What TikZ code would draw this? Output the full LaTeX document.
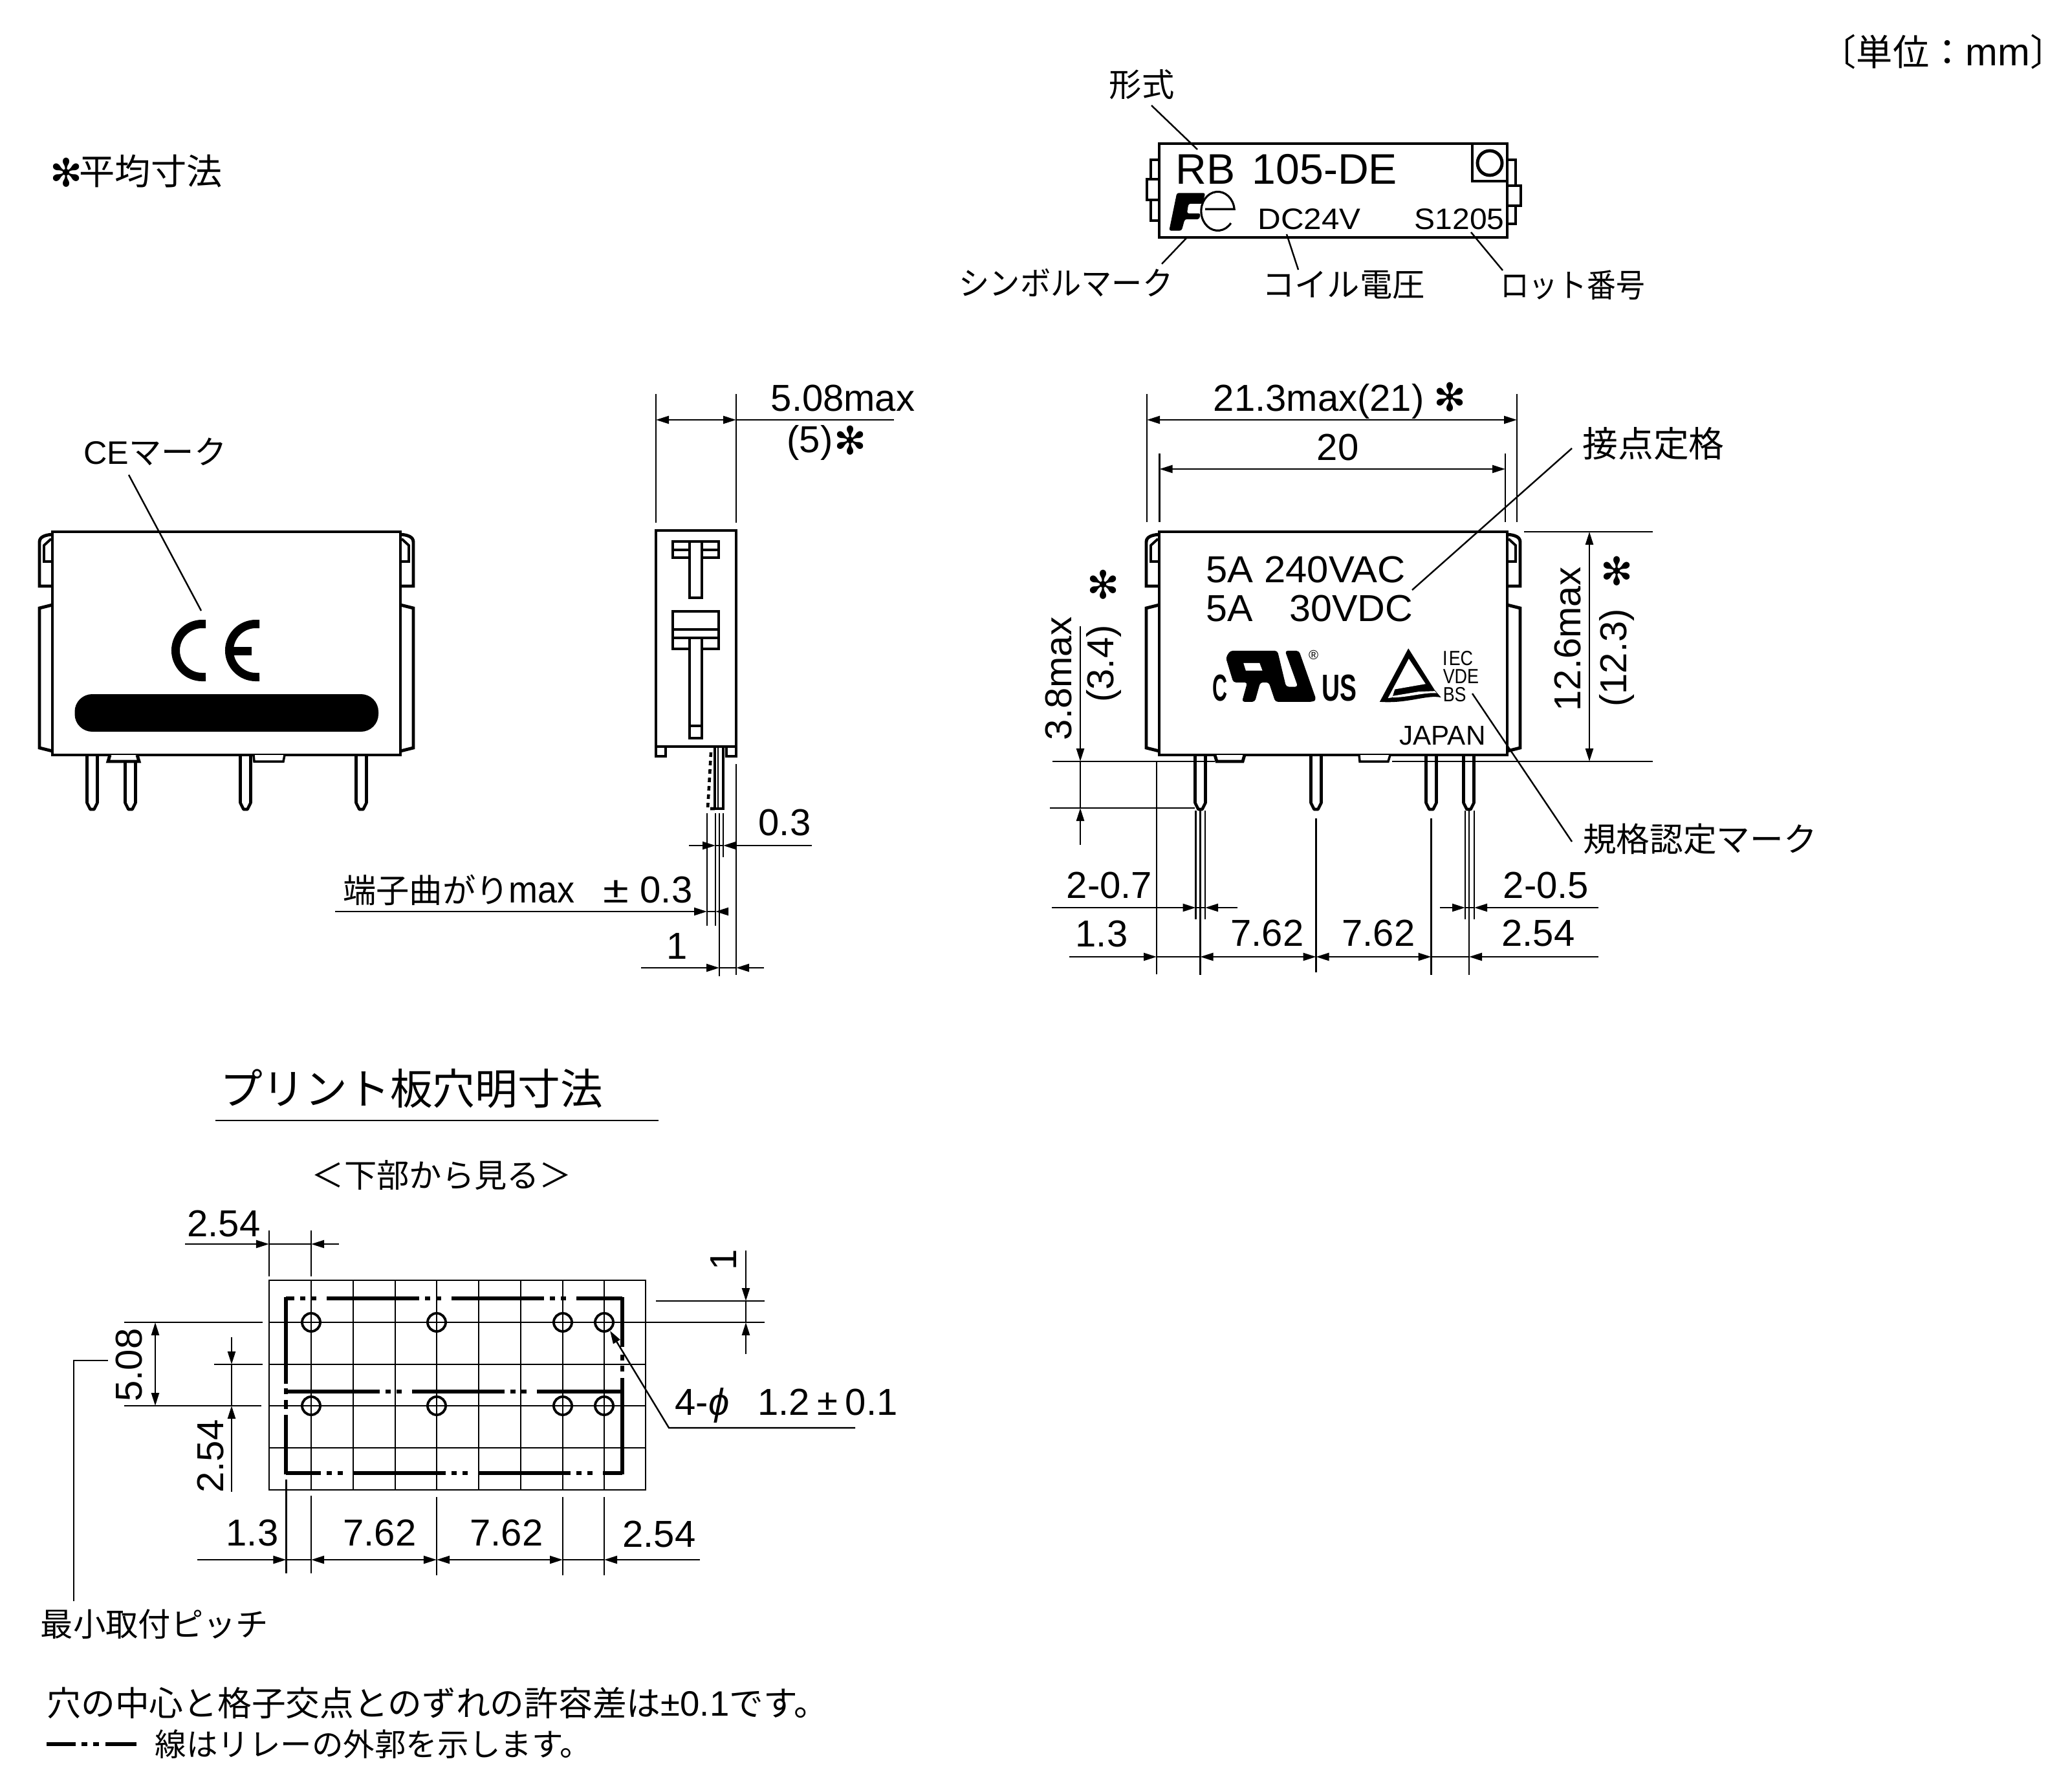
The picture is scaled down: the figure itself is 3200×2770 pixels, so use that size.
\documentclass[tikz,border=0pt]{standalone}
\usepackage{graphicx}
\usepackage{fontspec}
\setmainfont{Liberation Sans}
\newfontfamily\cjk{Noto Sans CJK JP}
\newfontfamily\symfont{DejaVu Sans}
\usetikzlibrary{arrows.meta}
\tikzset{
  every node/.style={inner sep=0pt},
  >={Triangle[length=.2cm,width=.12cm]},
  dim/.style={line width=.7pt},
  body/.style={line width=1.4pt,line join=miter},
  pin/.style={line width=1.3pt,line join=round,fill=white},
  outl/.style={line width=1.5pt},
  dimtext/.style={font=\fontsize{16.5}{18}\selectfont},
  jptext/.style={font=\cjk\fontsize{14.3}{16}\selectfont},
  starmark/.style={font=\symfont\fontsize{17}{18}\selectfont},
}
\begin{document}
\begin{tikzpicture}[x=.01cm,y=-.01cm]
\useasboundingbox (0,0) rectangle (3200,2770);

% top labels
\node[font=\cjk\fontsize{16}{18}\selectfont] (unit) at (3004,80) {〔単位：{\rmfamily\fontsize{17}{18}\selectfont mm}〕};
\node[starmark] (avgstar) at (103,267) {✻};
\node[font=\cjk\fontsize{15.7}{18}\selectfont,anchor=west] (avg) at (122,265) {平均寸法};

% marking view
\draw[body] (1792,222) rectangle (2330,367);
\draw[body] (2276,222) -- (2276,280) -- (2330,280);
\draw[body] (2303,252) circle (19);
\draw[line width=1.1pt] (2330,247) -- (2343,247) -- (2343,287);
\draw[line width=1.1pt] (2330,287) -- (2351,287) -- (2351,318) -- (2330,318);
\draw[line width=1.1pt] (2343,318) -- (2343,346) -- (2330,346);
\draw[line width=1.1pt] (1792,247) -- (1779,247) -- (1779,277);
\draw[line width=1.1pt] (1792,277) -- (1773,277) -- (1773,309) -- (1792,309);
\draw[line width=1.1pt] (1779,309) -- (1779,341) -- (1792,341);
\node[anchor=west,font=\fontsize{18.8}{20}\selectfont] (model) at (1817,262) {\scalebox{1}[1]{RB\hspace{.12em} 105-DE}};
\node[font=\fontsize{13}{14}\selectfont] (coil) at (2024,339) {\scalebox{1.08}[1]{DC24V}};
\node[font=\fontsize{13}{14}\selectfont] (lot) at (2256,339) {\scalebox{1.05}[1]{S1205}};
\begin{scope}[shift={(1780,280)},x=.00333cm,y=-.00333cm]
\fill[rounded corners=.03cm] (82,230) -- (118,55) -- (250,55) -- (238,105) -- (172,105) -- (165,150) -- (228,150) -- (222,177) -- (155,177) -- (140,230) -- cycle;
\draw[line width=.9pt] (250,130) -- (385,130) arc[start angle=6,end angle=322,x radius=.257cm,y radius=.30cm];
\end{scope}
\node[jptext] (typelab) at (1765,131) {形式};
\node[jptext] (symlab) at (1648,437) {\scalebox{.94}[1]{シンボルマーク}};
\node[jptext] (coillab) at (2077,440) {コイル電圧};
\node[jptext] (lotlab) at (2431,441) {\scalebox{.89}[1]{ロット番号}};
\draw[dim] (1780,163) -- (1851,231);
\draw[dim] (1835,367) -- (1796,408);
\draw[dim] (1989,362) -- (2007,417);
\draw[dim] (2274,359) -- (2323,418);

% relay outline, same for the CE view and the front view
\foreach \bx in {81,1792} {
\begin{scope}[shift={(\bx,0)}]
\draw[body] (0,822) rectangle (538,1167);
\draw[body] (0,826) .. controls (-12,827) and (-20,830) .. (-20,838) -- (-20,906) -- (0,906);
\draw[line width=1.1pt] (-2,833) -- (-13,843) -- (-13,868) -- (0,868);
\draw[body] (0,935) -- (-20,940) -- (-20,1156) -- (0,1161);
\draw[body] (538,826) .. controls (550,827) and (558,830) .. (558,838) -- (558,906) -- (538,906);
\draw[line width=1.1pt] (540,833) -- (551,843) -- (551,868) -- (538,868);
\draw[body] (538,935) -- (558,940) -- (558,1156) -- (538,1161);
\end{scope}
}

% CE view
\foreach \p in {142.5,201.5,379.5,558.5}
\draw[pin] ({\p-8},1169) -- ({\p-8},1241) -- ({\p-3},1251) -- ({\p+3},1251) -- ({\p+8},1241) -- ({\p+8},1169);
\draw[body,fill=white] (170,1167) -- (167,1177) -- (215,1177) -- (212,1167);
\draw[line width=1pt,fill=white] (392,1167) -- (393,1177) -- (438,1177) -- (440,1167);
\draw[line width=3.7pt] (318,964.5) -- (312.5,964.5) arc[start angle=90,end angle=270,radius=.41cm] -- (318,1046.5);
\draw[line width=3.7pt] (401,964.5) -- (395.5,964.5) arc[start angle=90,end angle=270,radius=.41cm] -- (401,1046.5);
\draw[line width=3.7pt] (355,1006) -- (389,1006);
\fill[rounded corners=.27cm] (115.5,1073) rectangle (585,1131);
\node[jptext] (celab) at (240,698) {{\rmfamily\fontsize{14.3}{16}\selectfont CE}マーク};
\draw[dim] (199,734) -- (311,944);

% side view
\draw[body] (1014,820) rectangle (1138,1154);
\draw[line width=1.1pt] (1014,1154) -- (1014,1169) -- (1029,1169) -- (1029,1154);
\draw[line width=1.1pt] (1138,1154) -- (1138,1169) -- (1123,1169) -- (1123,1154);
\draw[line width=1.1pt] (1040,837) rectangle (1111,862);
\draw[line width=1.1pt] (1040,850) -- (1111,850);
\draw[line width=1.1pt,fill=white] (1066,837) rectangle (1085,924);
\draw[line width=1.1pt] (1040,945) rectangle (1111,1003);
\draw[line width=1.1pt] (1040,973) -- (1111,973);
\draw[line width=1.1pt,fill=white] (1066,986) rectangle (1085,1141);
\draw[line width=1.1pt] (1040,986) -- (1066,986) (1085,986) -- (1111,986);
\draw[line width=1.1pt] (1066,1122) -- (1085,1122);
\draw[line width=1.1pt] (1105,1156) -- (1105,1250) -- (1118,1250) -- (1118,1156);
\draw[line width=.7pt] (1110,1156) -- (1110,1250);
\draw[line width=1.3pt,dash pattern=on .07cm off .06cm] (1099,1163) .. controls (1097,1200) .. (1094,1250) -- (1105,1250);
\foreach \x in {1014,1138}
\draw[dim] (\x,609) -- (\x,808);
\draw[dim,<->] (1014,649) -- (1138,649);
\draw[dim] (1138,649) -- (1382,649);
\node[dimtext] (sidemax) at (1303,616) {5.08max};
\node[dimtext] (sideavg) at (1252,684) {(5)};
\node[starmark] (sidestar) at (1315,681) {✻};
\draw[dim] (1093,1257) -- (1093,1431);
\draw[dim] (1106,1257) -- (1106,1431);
\draw[dim] (1112,1257) -- (1112,1509);
\draw[dim] (1118,1257) -- (1118,1325);
\draw[dim] (1138,1181) -- (1138,1507);
\draw[dim,->] (1065,1307) -- (1106,1307);
\draw[dim] (1106,1307) -- (1118,1307);
\draw[dim,->] (1255,1307) -- (1118,1307);
\draw[dim,->] (518,1409) -- (1093,1409);
\draw[dim] (1093,1409) -- (1106,1409);
\draw[dim,->] (1123,1409) -- (1106,1409);
\draw[dim,->] (991,1496) -- (1112,1496);
\draw[dim] (1112,1496) -- (1138,1496);
\draw[dim,->] (1181,1496) -- (1138,1496);
\node[dimtext] (sidepitch) at (1213,1272) {0.3};
\node[dimtext,anchor=east] (sidebend) at (1071,1376) {{\cjk\fontsize{14.6}{16}\selectfont 端子曲がり}\scalebox{.93}[1]{max}\hspace{.75em}\scalebox{1.25}[1]{±}\hspace{.3em}0.3};
\node[dimtext] (sideone) at (1047,1463) {1};

% front view
\foreach \p in {1855.5,2034.5,2212.5,2270.5}
\draw[pin] ({\p-8},1169) -- ({\p-8},1241) -- ({\p-3},1251) -- ({\p+3},1251) -- ({\p+8},1241) -- ({\p+8},1169);
\draw[body,fill=white] (1878,1167) -- (1881,1177) -- (1921,1177) -- (1924,1167);
\draw[line width=1pt,fill=white] (2101,1167) -- (2102,1177) -- (2146,1177) -- (2149,1167);
\node[dimtext,anchor=west] (rate1) at (1864,881) {\scalebox{1.03}[1]{5A 240VAC}};
\node[dimtext,anchor=west] (rate2) at (1864,941) {\scalebox{1.02}[1]{5A\hspace{.95em}30VDC}};
\node[font=\fontsize{12}{13}\selectfont] (japan) at (2230,1137) {JAPAN};
% UL and triangle marks
\begin{scope}[shift={(1860,970)},x=.00333cm,y=-.00333cm]
\fill[rounded corners=.04cm] (125,108) -- (345,108) -- (385,275) -- (440,275) -- (380,108) -- (445,108) -- (525,335) -- (510,345) -- (335,345) -- (305,255) -- (265,255) -- (240,345) -- (180,345) -- (205,255) -- (140,255) -- (105,140) -- cycle;
\fill[white] (187,165) -- (262,165) -- (275,200) -- (198,200) -- cycle;
\node[font=\fontsize{5.8}{6}\selectfont] (regmark) at (513,128) {®};
\node[font=\bfseries\fontsize{16.5}{18}\selectfont] (ulc) at (78,282) {\scalebox{.55}[1]{C}};
\node[font=\bfseries\fontsize{16.5}{18}\selectfont] (ulus) at (631,282) {\scalebox{.67}[1]{US}};
\fill (953,97) -- (1075,290) -- (1105,325) .. controls (1040,310) and (950,355) .. (820,345) -- cycle;
\fill[white] (955,145) -- (1033,262) -- (890,287) -- (878,325) -- (858,328) -- cycle;
\fill[white] (880,318) -- (1000,298) -- (1075,295) -- (1085,305) .. controls (1030,300) and (950,325) .. (880,325) -- cycle;
\node[anchor=west,font=\fontsize{9}{10}\selectfont] (iec) at (1110,144) {\scalebox{.85}[1]{I\hspace{.08em}EC}};
\node[anchor=west,font=\fontsize{9}{10}\selectfont] (vde) at (1112,228) {\scalebox{.85}[1]{VDE}};
\node[anchor=west,font=\fontsize{9}{10}\selectfont] (bs) at (1112,310) {\scalebox{.85}[1]{BS}};
\end{scope}
\node[font=\cjk\fontsize{15.6}{18}\selectfont] (ratelab) at (2556,686) {接点定格};
\node[font=\cjk\fontsize{14.7}{16}\selectfont] (stdlab) at (2628,1297) {規格認定マーク};
\draw[dim] (2183,912) -- (2430,693);
\draw[dim] (2276,1072) -- (2430,1301);
% front view dimensions
\foreach \x in {1773,2345}
\draw[dim] (\x,609) -- (\x,807);
\foreach \x in {1792.5,2327}
\draw[dim] (\x,701) -- (\x,807);
\draw[dim,<->] (1773,649) -- (2345,649);
\draw[dim,<->] (1792.5,725) -- (2327,725);
\node[dimtext] (wmax) at (2071,619) {21.3max(21)\hspace{.25em}{\symfont\fontsize{17}{18}\selectfont ✻}};
\node[dimtext] (wnom) at (2068,692) {20};
\draw[dim] (1627,1177) -- (1878,1177);
\draw[dim] (2152,1177) -- (2555,1177);
\draw[dim] (2356,822) -- (2555,822);
\draw[dim] (1623,1249) -- (1847,1249);
\draw[dim,<->] (2457,822) -- (2457,1177);
\draw[dim,->] (1670,968) -- (1670,1177);
\draw[dim] (1670,1177) -- (1670,1249);
\draw[dim,->] (1670,1306) -- (1670,1249);
\node[dimtext,rotate=90] (pinmax) at (1637,1049) {3.8max};
\node[dimtext,rotate=90] (pinavg) at (1706,1026) {(3.4)};
\node[starmark] (pinstar) at (1706,904) {✻};
\node[dimtext,rotate=90] (hmax) at (2423,988) {12.6max};
\node[dimtext,rotate=90] (havg) at (2499,1017) {(12.3)};
\node[starmark] (hstar) at (2500,883) {✻};
\draw[dim] (1788,1177) -- (1788,1506);
\draw[dim] (1855.5,1253) -- (1855.5,1507);
\draw[dim] (2034.5,1265) -- (2034.5,1503);
\draw[dim] (2212.5,1265) -- (2212.5,1507);
\draw[dim] (2271,1253) -- (2271,1507);
\foreach \x in {1848.5,1863,2265,2279}
\draw[dim] (\x,1253) -- (\x,1421);
\draw[dim,->] (1626,1403) -- (1848.5,1403);
\draw[dim] (1848.5,1403) -- (1863,1403);
\draw[dim,->] (1913,1403) -- (1863,1403);
\draw[dim,->] (2226,1403) -- (2265,1403);
\draw[dim] (2265,1403) -- (2279,1403);
\draw[dim,->] (2471,1403) -- (2279,1403);
\draw[dim,->] (1653,1479) -- (1788,1479);
\draw[dim] (1788,1479) -- (1855.5,1479);
\draw[dim,<->] (1855.5,1479) -- (2034.5,1479);
\draw[dim,<->] (2034.5,1479) -- (2212.5,1479);
\draw[dim] (2212.5,1479) -- (2271,1479);
\draw[dim,->] (2471,1479) -- (2271,1479);
\node[dimtext] (pw1) at (1715,1369) {2-0.7};
\node[dimtext] (pw2) at (2390,1369) {2-0.5};
\node[dimtext] (edge1) at (1703,1444) {1.3};
\node[dimtext] (pitch1) at (1959,1443) {7.62};
\node[dimtext] (pitch2) at (2131,1443) {7.62};
\node[dimtext] (pitch3) at (2378,1443) {2.54};

% board layout
\node[font=\cjk\fontsize{18.7}{20}\selectfont] (holetitle) at (636,1683) {プリント板穴明寸法};
\draw[dim] (333,1732) -- (1018,1732);
\node[jptext] (holesub) at (683,1816) {＜下部から見る＞};
\draw[line width=.75pt] (416,1979) rectangle (998,2303);
\foreach \x in {481,546,611,675,740,805,870,934}
\draw[dim] (\x,1979) -- (\x,2303);
\foreach \y in {2044,2109,2173,2238}
\draw[dim] (416,\y) -- (998,\y);
\foreach \x in {481,675,870,934}
\foreach \y in {2044,2173}
\draw[line width=1.1pt] (\x,\y) circle (14);
\draw[outl,dash pattern=on 1.43cm off .09cm on .08cm off .09cm on .08cm off .16cm,dash phase=1.30cm] (442,2007) -- (962,2007);
\draw[outl,dash pattern=on 1.43cm off .09cm on .08cm off .09cm on .08cm off .16cm] (444,2151) -- (962,2151);
\draw[outl,dash pattern=on 1.43cm off .09cm on .08cm off .09cm on .08cm off .16cm,dash phase=.89cm] (442,2277) -- (962,2277);
\draw[outl] (442,2005) -- (442,2139) (442,2146) -- (442,2155) (442,2164) -- (442,2178) (442,2187) -- (442,2279);
\draw[outl] (962,2005) -- (962,2082) (962,2094) -- (962,2103) (962,2111) -- (962,2120) (962,2130) -- (962,2279);
\draw[dim] (416,1902) -- (416,1973);
\draw[dim] (481,1902) -- (481,1973);
\draw[dim,->] (286,1923) -- (416,1923);
\draw[dim] (416,1923) -- (481,1923);
\draw[dim,->] (524,1923) -- (481,1923);
\node[dimtext] (toppitch) at (346,1892) {2.54};
\draw[dim] (192,2044) -- (406,2044);
\draw[dim] (192,2173) -- (404,2173);
\draw[dim] (331,2109) -- (406,2109);
\draw[dim,<->] (240,2044) -- (240,2173);
\node[dimtext,rotate=90] (rowpitch) at (200,2110) {5.08};
\draw[dim] (167,2103) -- (114,2103) -- (114,2475);
\node[jptext] (minpitch) at (239,2511) {最小取付ピッチ};
\draw[dim,->] (358,2067) -- (358,2109);
\draw[dim] (358,2109) -- (358,2173);
\draw[dim,->] (358,2306) -- (358,2173);
\node[dimtext,rotate=90] (rowpitch2) at (326,2251) {2.54};
\draw[dim] (442.5,2287) -- (442.5,2432);
\draw[dim] (481,2312) -- (481,2432);
\foreach \x in {675,870,934}
\draw[dim] (\x,2314) -- (\x,2435);
\draw[dim,->] (305,2411) -- (442.5,2411);
\draw[dim] (442.5,2411) -- (481,2411);
\draw[dim,<->] (481,2411) -- (675,2411);
\draw[dim,<->] (675,2411) -- (870,2411);
\draw[dim] (870,2411) -- (934,2411);
\draw[dim,->] (1082,2411) -- (934,2411);
\node[dimtext] (boardedge) at (390,2369) {1.3};
\node[dimtext] (boardp1) at (587,2369) {7.62};
\node[dimtext] (boardp2) at (783,2369) {7.62};
\node[dimtext] (boardp3) at (1019,2371) {2.54};
\draw[dim] (1014,2011) -- (1182,2011);
\draw[dim] (998,2044) -- (1182,2044);
\draw[dim,->] (1153,1933) -- (1153,2011);
\draw[dim] (1153,2011) -- (1153,2044);
\draw[dim,->] (1153,2093) -- (1153,2044);
\node[dimtext,rotate=90] (edgeone) at (1119,1947) {1};
\draw[dim,->] (1322,2207) -- (1034,2207) -- (943,2057);
\node[dimtext,anchor=west] (holesize) at (1043,2172) {4-\textit{ϕ}\hspace{.75em}1.2\hspace{.2em}±\hspace{.2em}0.1};

% notes
\node[font=\cjk\fontsize{15}{16}\selectfont,anchor=west] (note1) at (72,2632) {穴の中心と格子交点とのずれの許容差は{\rmfamily\fontsize{15.5}{16}\selectfont ±0.1}です。};
\draw[outl,dash pattern=on .45cm off .09cm on .09cm off .09cm on .09cm off .1cm on 1cm] (72,2696) -- (211,2696);
\node[font=\cjk\fontsize{13.8}{16}\selectfont,anchor=west] (note2) at (239,2696) {線はリレーの外郭を示します。};
\end{tikzpicture}
\end{document}
